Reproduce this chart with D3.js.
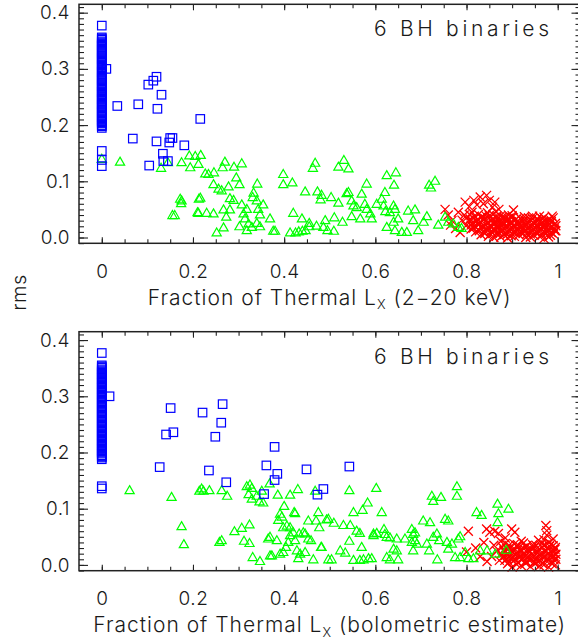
<!DOCTYPE html>
<html>
<head>
<meta charset="utf-8">
<script src="https://cdn.jsdelivr.net/npm/d3@7"></script>
<style>
  body { margin: 0; background: #fff; }
  text { font-family: "Inter", "DejaVu Sans", sans-serif; font-weight: 300; fill: #1a1a1a; }
</style>
</head>
<body>
<script>
const width = 578;
const height = 640;

// ticks and labels
const xTicks = [0, 0.2, 0.4, 0.6, 0.8, 1];
const xTickLabels = ["0", "0.2", "0.4", "0.6", "0.8", "1"];
const yTicks = [0, 0.1, 0.2, 0.3, 0.4];
const yTickLabels = ["0.0", "0.1", "0.2", "0.3", "0.4"];
const panelNote = "6 BH binaries";
const xTitles = ["(2\u221220 keV)", "(bolometric estimate)"];
const yTitle = "rms";

// top panel: fraction of thermal Lx (2-20 keV) vs rms
const blueTop = [
  [0,0.377],[0,0.356],[0,0.354],[0,0.352],[0,0.349],[0,0.347],[0,0.345],[0,0.343],[0,0.341],[0,0.339],
  [0,0.336],[0,0.334],[0,0.332],[0,0.330],[0,0.328],[0,0.326],[0,0.323],[0,0.321],[0,0.319],[0,0.317],
  [0,0.315],[0,0.313],[0,0.310],[0,0.308],[0,0.306],[0,0.304],[0,0.302],[0,0.299],[0,0.297],[0,0.295],
  [0,0.293],[0,0.291],[0,0.288],[0,0.286],[0,0.284],[0,0.282],[0,0.280],[0,0.278],[0,0.275],[0,0.273],
  [0,0.271],[0,0.269],[0,0.267],[0,0.265],[0,0.262],[0,0.260],[0,0.258],[0,0.256],[0,0.254],[0,0.251],
  [0,0.249],[0,0.247],[0,0.245],[0,0.243],[0,0.240],[0,0.238],[0,0.236],[0,0.234],[0,0.232],[0,0.230],
  [0,0.227],[0,0.225],[0,0.223],[0,0.221],[0,0.218],[0,0.216],[0,0.214],[0,0.212],[0,0.209],[0,0.207],
  [0,0.205],[0,0.203],[0,0.200],[0,0.198],[0,0.195],[0,0.154],[0,0.138],[0,0.127],
  [0.010,0.300],[0.034,0.234],[0.080,0.237],[0.068,0.176],[0.102,0.272],[0.113,0.279],[0.120,0.286],
  [0.131,0.254],[0.122,0.229],[0.104,0.128],[0.120,0.171],[0.134,0.149],[0.135,0.136],[0.150,0.177],
  [0.155,0.177],[0.148,0.169],[0.145,0.136],[0.181,0.164],[0.216,0.211]
];
const greenTop = [
  [0.000,0.140],[0.040,0.135],[0.130,0.124],[0.145,0.134],[0.175,0.134],[0.172,0.069],[0.174,0.061],
  [0.155,0.040],[0.160,0.040],[0.192,0.146],[0.194,0.125],[0.213,0.069],[0.210,0.045],
  [0.205,0.145],[0.217,0.147],[0.212,0.131],[0.227,0.114],[0.234,0.113],[0.245,0.095],[0.256,0.087],
  [0.263,0.084],[0.246,0.116],[0.265,0.125],[0.270,0.135],[0.290,0.126],[0.307,0.132],[0.295,0.107],
  [0.302,0.095],[0.278,0.091],[0.281,0.070],[0.289,0.067],[0.216,0.071],[0.175,0.066],[0.212,0.044],
  [0.230,0.044],[0.245,0.043],[0.267,0.050],[0.281,0.050],[0.273,0.037],[0.267,0.018],[0.252,0.009],
  [0.302,0.020],[0.307,0.059],[0.318,0.051],[0.311,0.043],[0.314,0.034],[0.322,0.025],[0.329,0.019],
  [0.340,0.026],[0.347,0.020],[0.318,0.013],[0.333,0.080],[0.331,0.072],[0.341,0.096],[0.340,0.066],
  [0.354,0.059],[0.343,0.051],[0.347,0.041],[0.369,0.034],[0.380,0.012],[0.376,0.012],
  [0.398,0.113],[0.398,0.095],[0.418,0.098],[0.420,0.044],[0.413,0.009],[0.425,0.009],[0.432,0.011],
  [0.440,0.012],[0.447,0.013],[0.455,0.020],[0.439,0.034],[0.446,0.082],[0.455,0.026],[0.468,0.133],
  [0.463,0.124],[0.473,0.082],[0.482,0.076],[0.480,0.068],[0.471,0.021],[0.490,0.031],[0.486,0.019],
  [0.495,0.013],[0.509,0.012],[0.503,0.072],[0.510,0.036],[0.519,0.126],[0.531,0.138],[0.541,0.123],
  [0.528,0.028],[0.519,0.062],[0.537,0.079],[0.541,0.081],[0.548,0.066],[0.552,0.057],[0.559,0.054],
  [0.570,0.078],[0.577,0.060],[0.581,0.051],[0.589,0.043],[0.592,0.034],[0.603,0.060],[0.581,0.096],
  [0.548,0.038],[0.567,0.034],
  [0.625,0.111],[0.645,0.116],[0.641,0.094],[0.621,0.081],[0.614,0.069],[0.618,0.057],[0.622,0.047],
  [0.640,0.057],[0.643,0.051],[0.632,0.045],[0.650,0.034],[0.640,0.028],[0.625,0.019],[0.643,0.013],
  [0.658,0.010],[0.669,0.010],[0.672,0.048],[0.687,0.050],[0.683,0.031],[0.694,0.013],[0.706,0.028],
  [0.713,0.038],[0.718,0.094],[0.722,0.089],[0.731,0.101],[0.738,0.023],[0.753,0.037],[0.760,0.028],
  [0.771,0.025],[0.782,0.019],[0.789,0.017]
];
const redTop = [
  [0.753,0.050],[0.760,0.040],[0.768,0.030],[0.782,0.045],[0.797,0.063],[0.806,0.055],[0.816,0.066],
  [0.823,0.058],[0.830,0.072],[0.837,0.060],[0.844,0.075],[0.850,0.066],[0.857,0.054],[0.862,0.063],
  [0.871,0.050],[0.903,0.049],[0.790,0.031],[0.799,0.021],[0.776,0.016],[0.765,0.022],[0.786,0.009],
  [0.812,0.045],[0.795,0.040],
  [0.808,0.040],[0.826,0.041],[0.842,0.039],[0.858,0.041],[0.874,0.038],[0.892,0.040],
  [0.800,0.035],[0.815,0.034],[0.832,0.036],[0.848,0.034],[0.866,0.035],[0.884,0.033],[0.900,0.036],
  [0.918,0.034],[0.936,0.035],
  [0.805,0.030],[0.822,0.029],[0.838,0.031],[0.855,0.030],[0.872,0.028],[0.890,0.030],[0.906,0.031],
  [0.924,0.029],[0.942,0.030],[0.958,0.031],[0.975,0.029],
  [0.812,0.025],[0.828,0.024],[0.845,0.026],[0.862,0.025],[0.880,0.024],[0.897,0.026],[0.914,0.025],
  [0.930,0.023],[0.948,0.025],[0.965,0.026],[0.982,0.024],[0.995,0.025],
  [0.818,0.020],[0.835,0.019],[0.852,0.021],[0.870,0.020],[0.887,0.019],[0.904,0.021],[0.920,0.020],
  [0.938,0.018],[0.955,0.020],[0.972,0.021],[0.988,0.019],
  [0.810,0.015],[0.826,0.014],[0.843,0.016],[0.860,0.015],[0.877,0.014],[0.895,0.016],[0.912,0.015],
  [0.928,0.013],[0.946,0.015],[0.962,0.016],[0.978,0.014],[0.993,0.015],
  [0.820,0.010],[0.838,0.009],[0.854,0.011],[0.868,0.010],[0.885,0.008],[0.902,0.010],[0.920,0.011],
  [0.936,0.009],[0.952,0.010],[0.970,0.011],[0.986,0.009],
  [0.832,0.005],[0.850,0.004],[0.866,0.006],[0.882,0.005],[0.898,0.003],[0.915,0.005],[0.932,0.006],
  [0.948,0.004],[0.966,0.005],[0.984,0.004],
  [0.860,0.000],[0.890,-0.001],[0.930,0.000],[0.970,-0.002],
  [0.955,0.033],[0.985,0.031],[0.996,0.012],[0.940,0.022],[0.912,0.028],[0.878,0.036],[0.846,0.044],
  [0.864,0.046],[0.990,0.035],[0.960,0.038],
  [0.817,0.038],[0.834,0.037],[0.850,0.039],[0.866,0.038],[0.883,0.036],[0.900,0.039],[0.927,0.037],
  [0.945,0.038],[0.970,0.036],[0.988,0.038],
  [0.808,0.033],[0.824,0.032],[0.840,0.034],[0.857,0.033],[0.875,0.031],[0.892,0.034],[0.909,0.033],
  [0.927,0.032],[0.945,0.034],[0.966,0.033],[0.980,0.031],
  [0.814,0.027],[0.830,0.028],[0.847,0.027],[0.864,0.029],[0.881,0.027],[0.898,0.028],[0.915,0.026],
  [0.933,0.027],[0.951,0.028],[0.968,0.027],[0.986,0.028],
  [0.810,0.022],[0.826,0.023],[0.843,0.022],[0.861,0.023],[0.878,0.021],[0.895,0.022],[0.912,0.023],
  [0.929,0.021],[0.946,0.022],[0.963,0.023],[0.980,0.022],[0.996,0.021],
  [0.815,0.017],[0.831,0.018],[0.848,0.017],[0.865,0.018],[0.882,0.016],[0.899,0.017],[0.916,0.018],
  [0.933,0.016],[0.950,0.017],[0.967,0.018],[0.984,0.017],
  [0.828,0.012],[0.845,0.013],[0.861,0.012],[0.877,0.011],[0.894,0.012],[0.911,0.013],[0.928,0.011],
  [0.944,0.012],[0.961,0.013],[0.978,0.011],[0.994,0.012],
  [0.840,0.007],[0.857,0.008],[0.873,0.007],[0.890,0.006],[0.907,0.008],[0.924,0.007],[0.940,0.006],
  [0.957,0.008],[0.975,0.007],[0.991,0.006],
  [0.848,0.002],[0.875,0.001],[0.905,0.002],[0.940,0.001],[0.960,0.002],[0.980,0.001]
];

// bottom panel: fraction of thermal Lx (bolometric) vs rms
const blueBottom = [
  [0,0.377],[0,0.355],[0,0.353],[0,0.351],[0,0.348],[0,0.346],[0,0.344],[0,0.342],[0,0.339],[0,0.337],
  [0,0.335],[0,0.333],[0,0.330],[0,0.328],[0,0.326],[0,0.324],[0,0.321],[0,0.319],[0,0.317],[0,0.315],
  [0,0.312],[0,0.310],[0,0.308],[0,0.306],[0,0.303],[0,0.301],[0,0.299],[0,0.297],[0,0.294],[0,0.292],
  [0,0.290],[0,0.288],[0,0.285],[0,0.283],[0,0.281],[0,0.279],[0,0.276],[0,0.274],[0,0.272],[0,0.270],
  [0,0.267],[0,0.265],[0,0.263],[0,0.261],[0,0.258],[0,0.256],[0,0.254],[0,0.252],[0,0.249],[0,0.247],
  [0,0.245],[0,0.243],[0,0.240],[0,0.238],[0,0.236],[0,0.234],[0,0.231],[0,0.229],[0,0.227],[0,0.225],
  [0,0.222],[0,0.220],[0,0.218],[0,0.216],[0,0.213],[0,0.211],[0,0.209],[0,0.207],[0,0.204],[0,0.202],
  [0,0.200],[0,0.198],[0,0.195],[0,0.193],[0,0.191],[0,0.188],
  [0,0.140],[0,0.136],
  [0.017,0.300],[0.151,0.279],[0.141,0.232],[0.157,0.236],[0.127,0.174],[0.221,0.271],[0.265,0.286],
  [0.262,0.253],[0.249,0.228],[0.235,0.168],[0.273,0.147],[0.379,0.210],[0.361,0.177],[0.385,0.162],
  [0.379,0.151],[0.356,0.126],[0.449,0.170],[0.486,0.135],[0.473,0.125],[0.543,0.175]
];
const greenBottom = [
  [0.061,0.133],[0.153,0.121],[0.175,0.069],[0.180,0.037],[0.214,0.132],[0.219,0.136],[0.223,0.132],
  [0.236,0.133],[0.263,0.133],[0.275,0.123],[0.291,0.060],[0.307,0.066],[0.324,0.072],[0.258,0.041],
  [0.263,0.044],[0.312,0.043],[0.324,0.039],[0.318,0.140],[0.325,0.143],[0.329,0.137],[0.322,0.126],
  [0.329,0.118],[0.340,0.123],[0.346,0.113],[0.354,0.111],[0.351,0.132],[0.368,0.145],[0.331,0.014],
  [0.347,0.007],[0.369,0.017],[0.373,0.017],[0.365,0.047],[0.369,0.050],[0.384,0.044],[0.391,0.020],
  [0.398,0.023],[0.404,0.032],[0.409,0.041],[0.424,0.044],[0.428,0.026],[0.435,0.020],[0.431,0.012],
  [0.446,0.023],[0.453,0.047],[0.459,0.044],[0.481,0.032],[0.464,0.010],[0.386,0.125],[0.413,0.125],
  [0.430,0.135],[0.400,0.105],[0.391,0.091],[0.395,0.086],[0.387,0.080],[0.398,0.067],[0.406,0.070],
  [0.413,0.067],[0.422,0.094],[0.424,0.092],[0.420,0.058],[0.413,0.053],[0.433,0.056],[0.442,0.058],
  [0.446,0.056],[0.453,0.079],[0.470,0.079],[0.475,0.094],[0.477,0.067],[0.493,0.081],[0.497,0.082],
  [0.509,0.075],[0.530,0.071],[0.545,0.071],[0.552,0.094],[0.572,0.098],[0.583,0.111],[0.602,0.137],
  [0.543,0.133],[0.468,0.132],[0.482,0.032],[0.497,0.010],[0.504,0.010],[0.523,0.026],[0.534,0.022],
  [0.543,0.043],[0.552,0.009],[0.566,0.009],[0.570,0.032],[0.574,0.010],[0.585,0.012],[0.592,0.012],
  [0.596,0.056],[0.559,0.061],[0.566,0.057],[0.596,0.053],[0.603,0.057],
  [0.614,0.094],[0.619,0.064],[0.621,0.055],[0.625,0.050],[0.632,0.049],[0.647,0.047],[0.640,0.029],
  [0.647,0.026],[0.625,0.014],[0.632,0.010],[0.650,0.010],[0.665,0.047],[0.680,0.064],[0.683,0.055],
  [0.687,0.058],[0.680,0.041],[0.687,0.044],[0.691,0.038],[0.683,0.026],[0.713,0.038],[0.718,0.026],
  [0.735,0.056],[0.727,0.050],[0.740,0.044],[0.736,0.010],[0.757,0.041],[0.760,0.029],[0.768,0.038],
  [0.775,0.014],[0.782,0.047],[0.786,0.051],[0.786,0.014],[0.797,0.023],[0.804,0.012],[0.815,0.012],
  [0.822,0.094],[0.833,0.089],[0.868,0.109],[0.870,0.092],[0.892,0.100],[0.868,0.076],[0.830,0.026],
  [0.845,0.026],[0.863,0.020],[0.887,0.027],[0.705,0.079],[0.720,0.076],[0.753,0.082],[0.760,0.079],
  [0.724,0.123],[0.727,0.114],[0.744,0.121],[0.779,0.140],[0.779,0.123]
];
const redBottom = [
  [0.800,0.023],[0.804,0.060],[0.820,0.030],[0.830,0.015],[0.845,0.006],[0.844,0.064],[0.851,0.058],
  [0.862,0.060],[0.870,0.056],[0.860,0.035],[0.875,0.042],[0.899,0.064],[0.906,0.058],[0.974,0.070],
  [0.976,0.061],[0.976,0.053],[0.970,0.045],[0.981,0.040],[0.885,0.048],[0.866,0.025],[0.855,0.015],
  [0.838,0.040],[0.872,0.008],
  [0.885,0.038],[0.905,0.037],[0.925,0.039],[0.945,0.036],[0.965,0.038],[0.985,0.037],
  [0.878,0.032],[0.895,0.031],[0.912,0.033],[0.930,0.032],[0.948,0.030],[0.966,0.032],[0.982,0.033],
  [0.995,0.031],
  [0.882,0.026],[0.900,0.025],[0.918,0.027],[0.936,0.026],[0.954,0.024],[0.972,0.026],[0.990,0.027],
  [0.876,0.020],[0.892,0.019],[0.910,0.021],[0.928,0.020],[0.946,0.018],[0.964,0.020],[0.980,0.021],
  [0.996,0.019],
  [0.880,0.014],[0.898,0.013],[0.916,0.015],[0.934,0.014],[0.952,0.012],[0.970,0.014],[0.988,0.015],
  [0.884,0.008],[0.902,0.007],[0.920,0.009],[0.938,0.008],[0.956,0.006],[0.974,0.008],[0.992,0.009],
  [0.890,0.002],[0.910,0.001],[0.930,0.003],[0.950,0.002],[0.970,0.000],[0.988,0.002],
  [0.900,-0.004],[0.940,-0.003],[0.980,-0.004],
  [0.958,0.044],[0.990,0.046],[0.920,0.042],
  [0.893,0.035],[0.912,0.036],[0.932,0.034],[0.952,0.035],[0.972,0.036],[0.990,0.034],
  [0.888,0.029],[0.906,0.028],[0.924,0.030],[0.942,0.029],[0.960,0.027],[0.978,0.029],[0.994,0.028],
  [0.884,0.023],[0.901,0.022],[0.919,0.024],[0.937,0.023],[0.955,0.021],[0.973,0.023],[0.990,0.022],
  [0.886,0.017],[0.904,0.016],[0.922,0.018],[0.940,0.017],[0.958,0.015],[0.976,0.017],[0.992,0.016],
  [0.889,0.011],[0.907,0.010],[0.925,0.012],[0.943,0.011],[0.961,0.009],[0.979,0.011],[0.996,0.010],
  [0.893,0.005],[0.912,0.004],[0.931,0.006],[0.948,0.005],[0.966,0.003],[0.984,0.005],
  [0.920,-0.001],[0.960,-0.002],[0.995,0.000]
];

const frameLeft = 79;
const frameRight = 580.5;
const panelHeight = 239;
const panelTops = [4.3, 331.7];

var svgContainer = d3
  .select("body")
  .append("svg")
  .attr("width", width)
  .attr("height", height);

var x = d3.scaleLinear().domain([-0.05, 1.05]).range([frameLeft, frameRight]);
var xMinor = d3.range(0, 21).map(function(i) { return i * 0.05; });
var yMinor = d3.range(-1, 42).map(function(i) { return i * 0.01; });

function drawPanel(top, blue, green, red, xTitle) {
  var bottom = top + panelHeight;
  var y = d3.scaleLinear().domain([-0.0103, 0.4149]).range([bottom, top]);

  var group = svgContainer.append("g");

  // points: red first, then green, then blue on top
  var pts = group.append("g");
  red.forEach(function(d) {
    var cx = x(d[0]), cy = y(d[1]);
    pts.append("path")
      .attr("d", "M" + (cx - 4.5) + "," + (cy - 4.5) + "L" + (cx + 4.5) + "," + (cy + 4.5) +
                 "M" + (cx - 4.5) + "," + (cy + 4.5) + "L" + (cx + 4.5) + "," + (cy - 4.5))
      .attr("stroke", "#ff0000")
      .attr("stroke-width", 1.3)
      .attr("fill", "none");
  });
  green.forEach(function(d) {
    var cx = x(d[0]), cy = y(d[1]);
    pts.append("path")
      .attr("d", "M" + cx + "," + (cy - 4.5) + "L" + (cx + 4.6) + "," + (cy + 3.5) +
                 "L" + (cx - 4.6) + "," + (cy + 3.5) + "Z")
      .attr("stroke", "#00ff00")
      .attr("stroke-width", 1.2)
      .attr("fill", "none");
  });
  blue.forEach(function(d) {
    pts.append("rect")
      .attr("x", x(d[0]) - 4.25)
      .attr("y", y(d[1]) - 4.25)
      .attr("width", 8.5)
      .attr("height", 8.5)
      .attr("stroke", "#0000ff")
      .attr("stroke-width", 1.2)
      .attr("fill", "none");
  });

  // axes, ticks pointing inward
  group.append("g").attr("transform", "translate(0," + bottom + ")")
    .call(d3.axisBottom(x).tickValues(xMinor).tickSize(-4).tickFormat(""));
  group.append("g").attr("transform", "translate(0," + bottom + ")")
    .call(d3.axisBottom(x).tickValues(xTicks).tickSize(-6).tickPadding(21)
      .tickFormat(function(d, i) { return xTickLabels[i]; }));
  group.append("g").attr("transform", "translate(0," + top + ")")
    .call(d3.axisTop(x).tickValues(xMinor).tickSize(-4).tickFormat(""));
  group.append("g").attr("transform", "translate(0," + top + ")")
    .call(d3.axisTop(x).tickValues(xTicks).tickSize(-6).tickFormat(""));
  group.append("g").attr("transform", "translate(" + frameLeft + ",0)")
    .call(d3.axisLeft(y).tickValues(yMinor).tickSize(-5).tickFormat(""));
  group.append("g").attr("transform", "translate(" + frameLeft + ",0)")
    .call(d3.axisLeft(y).tickValues(yTicks).tickSize(-9).tickPadding(9)
      .tickFormat(function(d, i) { return yTickLabels[i]; }));
  group.append("g").attr("transform", "translate(" + frameRight + ",0)")
    .call(d3.axisRight(y).tickValues(yMinor).tickSize(-5).tickFormat(""));
  group.append("g").attr("transform", "translate(" + frameRight + ",0)")
    .call(d3.axisRight(y).tickValues(yTicks).tickSize(-9).tickFormat(""));

  group.selectAll(".domain").remove();
  group.selectAll(".tick line").attr("stroke", "#222").attr("stroke-width", 1.1);
  group.selectAll(".tick text")
    .attr("font-size", 19)
    .attr("font-family", null)
    .attr("letter-spacing", 0.5)
    .attr("fill", "#1a1a1a");

  group.append("rect")
    .attr("x", frameLeft)
    .attr("y", top)
    .attr("width", frameRight - frameLeft)
    .attr("height", panelHeight)
    .attr("fill", "none")
    .attr("stroke", "#222")
    .attr("stroke-width", 1.5);

  group.append("text")
    .attr("x", 549)
    .attr("y", top + 32)
    .attr("text-anchor", "end")
    .attr("font-size", 21)
    .attr("textLength", 175)
    .attr("lengthAdjust", "spacing")
    .text(panelNote);

  var title = group.append("text")
    .attr("x", (frameLeft + frameRight) / 2)
    .attr("y", bottom + 61.5)
    .attr("text-anchor", "middle")
    .attr("font-size", 21)
    .attr("letter-spacing", 1);
  title.append("tspan").text("Fraction of Thermal L");
  title.append("tspan").attr("font-size", 13).attr("dy", 4.5).text("X");
  title.append("tspan").attr("dy", -4.5).text(" " + xTitle);
}

drawPanel(panelTops[0], blueTop, greenTop, redTop, xTitles[0]);
drawPanel(panelTops[1], blueBottom, greenBottom, redBottom, xTitles[1]);

svgContainer.append("text")
  .attr("transform", "translate(26,292.5) rotate(-90)")
  .attr("text-anchor", "middle")
  .attr("font-size", 20)
  .attr("letter-spacing", 0.5)
  .text(yTitle);
</script>
</body>
</html>
